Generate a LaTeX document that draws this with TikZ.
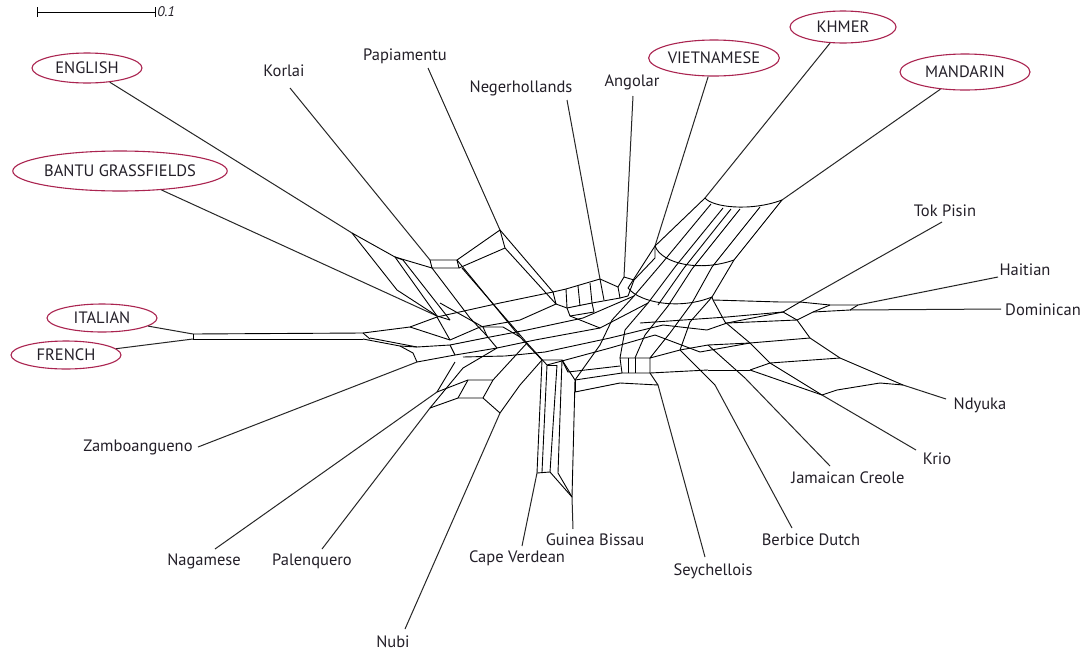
\documentclass[tikz,border=0pt]{standalone}
\usepackage{fontspec}
\setmainfont{PT Sans}
\usetikzlibrary{shapes.geometric}
\definecolor{ellc}{RGB}{170,36,80}
\definecolor{txtc}{RGB}{35,31,40}
\begin{document}
\begin{tikzpicture}[x=1pt,y=-1pt,
  lab/.style={font=\fontsize{16.5}{19}\selectfont,text=txtc,inner sep=1pt},
  ell/.style={ellipse,draw=ellc,line width=1.1pt,font=\fontsize{16.5}{19}\selectfont,text=txtc,inner sep=0pt},
  every path/.style={line width=0.9pt,line join=round},
  leaf/.style={draw=black!85,line width=1pt}]
\fill[white] (0,0) rectangle (1088,654);
\useasboundingbox (0,0) rectangle (1088,654);
% scale bar
\coordinate (sb1) at (37,12); \coordinate (sb2) at (155,12);
\draw (sb1)--(sb2); \draw (37,7)--(37,17); \draw (155,7)--(155,17);
\node[lab,anchor=west,font=\fontsize{14}{16}\selectfont\itshape] (sbl) at (156,12) {0.1};
% labels
\node[ell,minimum width=110pt,minimum height=30pt] (en) at (87,68) {ENGLISH};
\node[ell,minimum width=212pt,minimum height=40pt] (ba) at (120,171) {BANTU GRASSFIELDS};
\node[ell,minimum width=110pt,minimum height=28pt] (it) at (102,318) {ITALIAN};
\node[ell,minimum width=110pt,minimum height=28pt] (fr) at (66,355) {FRENCH};
\node[ell,minimum width=120pt,minimum height=36pt] (vi) at (714,58) {VIETNAMESE};
\node[ell,minimum width=106pt,minimum height=32pt] (kh) at (843,27) {KHMER};
\node[ell,minimum width=130pt,minimum height=36pt] (ma) at (965,72) {MANDARIN};
\node[lab] (ko) at (284,71) {Korlai};
\node[lab] (pa) at (405,56) {Papiamentu};
\node[lab] (ne) at (521,88) {Negerhollands};
\node[lab] (an) at (632,82) {Angolar};
\node[lab] (tp) at (945,211) {Tok Pisin};
\node[lab] (ha) at (1025,270) {Haitian};
\node[lab] (do) at (1043,310) {Dominican};
\node[lab] (nd) at (980,405) {Ndyuka};
\node[lab] (kr) at (937,459) {Krio};
\node[lab] (jc) at (848,478) {Jamaican Creole};
\node[lab] (bd) at (811,540) {Berbice Dutch};
\node[lab] (se) at (713,571) {Seychellois};
\node[lab] (gb) at (595,540) {Guinea Bissau};
\node[lab] (cv) at (517,558) {Cape Verdean};
\node[lab] (nu) at (393,642) {Nubi};
\node[lab] (pq) at (312,561) {Palenquero};
\node[lab] (ng) at (204,561) {Nagamese};
\node[lab] (zb) at (138,447) {Zamboangueno};
% stem points
\coordinate (SE) at (352,233); \coordinate (SB) at (437,316);
\coordinate (SKo) at (430,260); \coordinate (SPa) at (500,230);
\coordinate (SNe) at (600,279); \coordinate (SAn) at (624,277);
\coordinate (SVi) at (655,246); \coordinate (SKh) at (705,198);
\coordinate (SMa) at (782,200); \coordinate (STP) at (800,302);
\coordinate (SHa) at (858,305); \coordinate (SDo) at (850,310);
\coordinate (SNd) at (903,385); \coordinate (SKr) at (822,395);
\coordinate (SJC) at (745,378); \coordinate (SBD) at (715,385);
\coordinate (SSe) at (658,385); \coordinate (SGB) at (572,497);
\coordinate (SCV) at (537,473); \coordinate (SNu) at (500,413);
\coordinate (SPQ) at (430,408); \coordinate (SNg) at (437,392);
\coordinate (SZb) at (417,362); \coordinate (SIt) at (193,334);
\coordinate (SFr) at (193,339);
% leaf start points near labels
\coordinate (lko) at (290,88); \coordinate (lpa) at (428,68);
\coordinate (lne) at (567,100); \coordinate (lan) at (633,96);
\coordinate (ltp) at (942,222); \coordinate (lha) at (998,277);
\coordinate (ldo) at (1001,309); \coordinate (lnd) at (946,399);
\coordinate (lkr) at (916,450); \coordinate (ljc) at (830,466);
\coordinate (lbd) at (792,528); \coordinate (lse) at (705,557);
\coordinate (lgb) at (573,529); \coordinate (lcv) at (522,546);
\coordinate (lnu) at (405,629); \coordinate (lpq) at (322,549);
\coordinate (lng) at (215,549); \coordinate (lzb) at (198,447);
% leaf edges
\draw[leaf] (en)--(SE); \draw[leaf] (ba)--(SB);
\draw[leaf] (it)--(SIt); \draw[leaf] (fr)--(SFr);
\draw[leaf] (vi)--(SVi); \draw[leaf] (kh)--(SKh); \draw[leaf] (ma)--(SMa);
\draw[leaf] (lko)--(SKo); \draw[leaf] (lpa)--(SPa); \draw[leaf] (lne)--(SNe);
\draw[leaf] (lan)--(SAn); \draw[leaf] (ltp)--(STP); \draw[leaf] (lha)--(SHa);
\draw[leaf] (ldo)--(SDo); \draw[leaf] (lnd)--(SNd); \draw[leaf] (lkr)--(SKr);
\draw[leaf] (ljc)--(SJC); \draw[leaf] (lbd)--(SBD); \draw[leaf] (lse)--(SSe);
\draw[leaf] (lgb)--(SGB); \draw[leaf] (lcv)--(SCV); \draw[leaf] (lnu)--(SNu);
\draw[leaf] (lpq)--(SPQ); \draw[leaf] (lng)--(SNg); \draw[leaf] (lzb)--(SZb);
% ---------- network web ----------
% Italian / French
\draw (SIt)--(SFr);
\draw (SIt)--(363,333); \draw (SFr)--(363,339); \draw (363,333)--(370,339);
\draw (363,333)--(410,327)--(437,317);
\draw (410,327)--(450,340);
\draw (370,338)--(417,347)--(450,345);
\draw (363,339)--(400,346)--(413,353)--(SZb)--(455,355);
\draw (437,317)--(450,340); \draw (450,345)--(455,355);
\draw (400,346)--(417,347);
% English / Bantu / Korlai
\draw (SE)--(395,257)--(SB); \draw (SE)--(397,290)--(SB);
\draw (403,260)--(450,320); \draw (395,257)--(403,260);
\draw (SB)--(450,320);
\draw (395,257)--(432,268);
\draw (SKo)--(457,260)--(459,268)--(432,268)--cycle;
\draw (432,268)--(470,318)--(487,336);
\draw (457,260)--(520,337)--(542,360);
\draw (462,268)--(527,343)--(547,365);
\draw (440,303)--(483,327)--(503,327)--(520,337);
\draw (483,327)--(487,336);
% Papiamentu
\draw (457,260)--(SPa)--(505,248)--(459,268);
\draw (SPa)--(553,292); \draw (505,248)--(556,304);
% Negerhollands box
\draw (553,292)--(566,289)--(SNe)--(618,287)--(620,298)--(592,303)--(567,308)--(556,304)--cycle;
\draw (566,289)--(567,308); \draw (578,286)--(580,306); \draw (590,283)--(592,303); \draw (SNe)--(604,300);
\draw (567,308)--(570,316)--(594,312)--(592,303);
% Angolar / Vietnamese junction
\draw (SAn)--(634,280)--(628,296)--(620,298); \draw (SAn)--(618,287);
\draw (SVi)--(655,258)--(634,280);
% Khmer / Mandarin band
\draw (SKh) .. controls (712,207) and (750,212) .. (SMa);
\draw (SVi) .. controls (662,264) and (700,272) .. (734,260);
\draw (628,288) .. controls (640,303) and (680,310) .. (712,297);
\draw (SKh)--(SVi)--(628,288);
\draw (711,204)--(663,262)--(634,296);
\draw (723,208)--(675,267)--(648,303);
\draw (740,209)--(692,269)--(668,306);
\draw (760,207)--(712,267)--(692,303);
\draw (SMa)--(734,260)--(712,297);
\draw (731,209)--(684,268)--(658,305);
% centre rails
\draw (437,317)--(500,303)--(553,292);
\draw (450,340)--(480,327)--(520,320)--(556,304);
\draw (450,345)--(490,337)--(527,330)--(583,318)--(634,296);
\draw (455,355)--(497,348)--(535,340)--(600,328)--(648,303);
\draw (463,357)--(505,356)--(545,352)--(610,338)--(663,325)--(707,330)--(727,323)--(797,320);
\draw (547,365)--(610,348)--(655,335)--(700,352);
\draw (640,323)--(727,317)--(783,312);
\draw (700,352)--(750,343);
\draw (SNg)--(468,380)--(493,380)--(483,398)--(458,398)--(SPQ);
\draw (468,380)--(458,398);
\draw (SNg)--(455,362); \draw (SPQ)--(463,368);
\draw (493,380)--(527,343); \draw (483,398)--(SNu)--(520,385)--(542,360);
\draw (463,368)--(497,348); \draw (487,336)--(497,348);
\draw (570,316)--(600,328);
\draw (634,296)--(612,320)--(600,345)--(575,380);
\draw (648,303)--(625,330)--(620,358);
\draw (668,306)--(645,335)--(635,358);
\draw (692,303)--(670,333)--(650,358);
\draw (712,297)--(690,322)--(680,350);
% Cape Verdean / Guinea Bissau band
\draw (542,360)--(562,360)--(575,380);
\draw (542,360)--(SCV); \draw (547,365)--(542,472); \draw (557,365)--(550,472);
\draw (562,360)--(558,473); \draw (575,380)--(SGB);
\draw (547,365)--(557,365);
\draw (SCV)--(550,472)--(SGB); \draw (558,473)--(SGB);
\draw (562,360)--(568,372)--(620,366);
% Seychellois box
\draw (620,358)--(650,358)--(650,373)--(622,373)--cycle;
\draw (628,358)--(628,373); \draw (635,358)--(635,373);
\draw (575,380)--(622,373); \draw (575,392)--(620,383)--(SSe);
\draw (575,380)--(575,392);
\draw (650,373)--(SSe);
\draw (650,358)--(680,350)--(708,345);
\draw (680,350)--(SBD); \draw (708,345)--(SJC);
\draw (708,370)--(750,370); \draw (650,373)--(708,370);
% right side: Ndyuka / Krio band
\draw (725,322)--(750,343)--(770,363)--(SKr);
\draw (797,320)--(810,338)--(840,358)--(SNd);
\draw (750,343)--(810,338); \draw (770,363)--(840,358);
\draw (SKr)--(837,390)--(880,383)--(SNd);
\draw (708,345)--(750,343); \draw (750,370)--(770,363);
\draw (750,370)--(SKr);
% Tok Pisin / Haitian / Dominican
\draw (STP)--(783,312)--(727,323);
\draw (SHa)--(SDo);
\draw (SHa)--(830,305)--(STP);
\draw (SDo)--(813,312)--(797,320);
\draw (830,305)--(813,312);
\draw (783,312)--(797,320);
\draw (713,300)--(780,302)--(STP);
\draw (712,297)--(713,300)--(725,322);
\end{tikzpicture}
\end{document}
